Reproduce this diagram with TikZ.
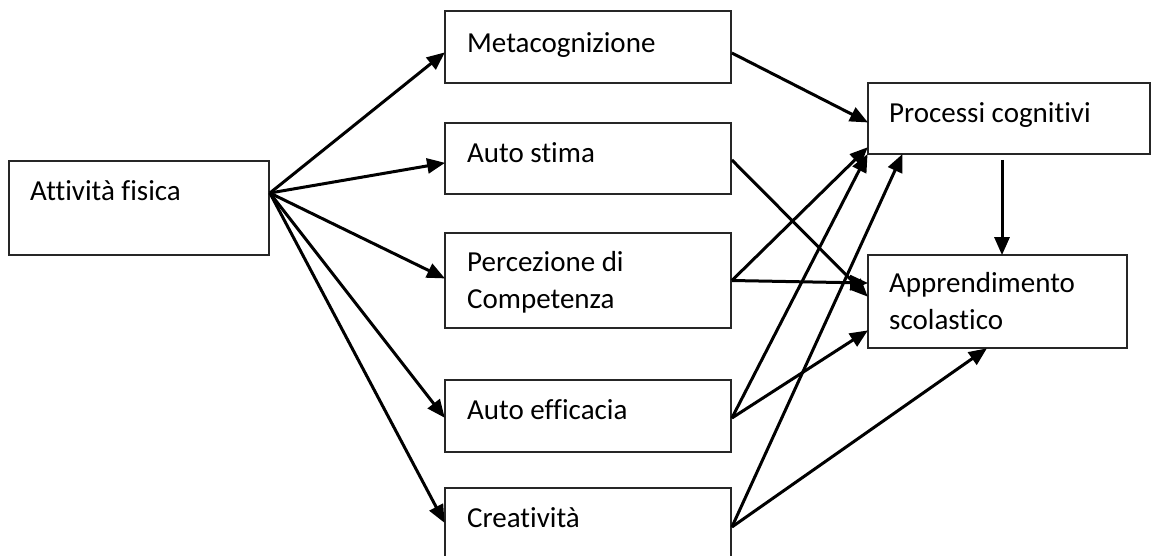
\documentclass[tikz,border=0pt]{standalone}
\usepackage{fontspec}
\setmainfont[Ligatures=NoCommon]{Carlito}
\usetikzlibrary{arrows.meta}
\begin{document}
\begin{tikzpicture}[x=1pt,y=-1pt,
  box/.style={draw=black!85, line width=1.8pt, rectangle, inner sep=0pt},
  lbl/.style={anchor=base west, inner sep=0pt, align=left, font=\fontsize{29}{37}\selectfont},
  arr/.style={line width=3pt, -{Triangle[length=18pt,width=15pt]}, shorten >=-1pt}
]
\useasboundingbox (0,0) rectangle (1152,555);
% boxes
\node[box, minimum width=260pt, minimum height=94pt] (af) at (139,208) {};
\node[box, minimum width=286pt, minimum height=72pt] (meta) at (588,47) {};
\node[box, minimum width=286pt, minimum height=71pt] (stima) at (588,158.5) {};
\node[box, minimum width=286pt, minimum height=95pt] (perc) at (588,280.5) {};
\node[box, minimum width=286pt, minimum height=72pt] (eff) at (588,416) {};
\node[box, minimum width=286pt, minimum height=72pt] (crea) at (588,524) {};
\node[box, minimum width=282pt, minimum height=71pt] (proc) at (1009,118.5) {};
\node[box, minimum width=259pt, minimum height=93pt] (app) at (997.5,301.5) {};
% labels
\node[lbl] (taf) at (30,200) {Attività fisica};
\node[lbl] (tmeta) at (467,52) {Metacognizione};
\node[lbl] (tstima) at (467,162) {Auto stima};
\node[lbl] (tperc1) at (467,271) {Percezione di};
\node[lbl] (tperc2) at (467,308) {Competenza};
\node[lbl] (teff) at (467,419) {Auto efficacia};
\node[lbl] (tcrea) at (467,527) {Creatività};
\node[lbl] (tproc) at (889,122) {Processi cognitivi};
\node[lbl] (tapp1) at (889,292) {Apprendimento};
\node[lbl] (tapp2) at (889,329) {scolastico};
% arrows from Attività fisica
\coordinate (src) at ([yshift=15pt]af.east);
\draw[arr] (src) -- ([yshift=-6pt]meta.west);
\draw[arr] (src) -- ([yshift=-4.5pt]stima.west);
\draw[arr] (src) -- ([yshift=2.5pt]perc.west);
\draw[arr] (src) -- ([yshift=-1pt]eff.west);
\draw[arr] (src) -- ([yshift=2pt]crea.west);
% to Processi cognitivi / Apprendimento
\draw[arr] ([yshift=-6pt]meta.east) -- ([yshift=-3.5pt]proc.west);
\draw[arr] ([yshift=-1.5pt]stima.east) -- ([yshift=5.5pt]app.west);
\draw[arr] (perc.east) -- ([yshift=7pt]proc.south west);
\draw[arr] (perc.east) -- ([yshift=18.5pt]app.west);
\draw[arr] ([yshift=-2pt]eff.east) -- (proc.south west);
\draw[arr] ([yshift=-2pt]eff.east) -- ([yshift=18pt]app.south west);
\draw[arr] ([yshift=-3pt]crea.east) -- ([xshift=35pt]proc.south west);
\draw[arr] ([yshift=-3pt]crea.east) -- ([xshift=119pt]app.south west);
\draw[arr] ([xshift=-7pt,yshift=-5pt]proc.south) -- ([xshift=4.5pt]app.north);
\end{tikzpicture}
\end{document}
